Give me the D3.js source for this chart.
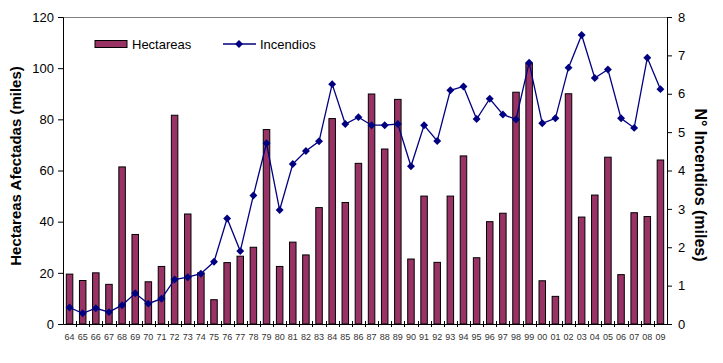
<!DOCTYPE html>
<html>
<head>
<meta charset="utf-8">
<script src="https://cdn.jsdelivr.net/npm/d3@7"></script>
<style>
  body { margin: 0; background: #fff; }
  svg { font-family: "Liberation Sans", Arial, sans-serif; }
</style>
</head>
<body>
<svg id="chart" width="723" height="363"></svg>
<script>
var years = ["64","65","66","67","68","69","70","71","72","73","74","75","76","77","78","79",
  "80","81","82","83","84","85","86","87","88","89","90","91","92","93","94","95","96","97",
  "98","99","00","01","02","03","04","05","06","07","08","09"];
// hectareas afectadas (miles)
var hectareas = [19.5,17,20,15.5,61.4,35,16.5,22.5,81.6,43,20,9.5,24,26.5,30,76,
  22.5,32,27,45.5,80.3,47.5,62.8,89.9,68.4,87.8,25.4,50,24.1,50,65.7,25.9,40,43.3,
  90.6,101.9,16.9,10.8,90,41.8,50.4,65.2,19.3,43.5,42,64.1];
// n de incendios (miles)
var incendios = [0.43,0.28,0.41,0.31,0.49,0.80,0.53,0.66,1.16,1.22,1.31,1.62,2.75,1.90,3.35,4.71,
  2.97,4.17,4.51,4.76,6.25,5.21,5.39,5.18,5.18,5.21,4.11,5.18,4.77,6.09,6.19,5.34,5.87,5.46,
  5.33,6.81,5.23,5.36,6.68,7.53,6.41,6.63,5.36,5.11,6.94,6.12];
var leftTicks = [0,20,40,60,80,100,120];
var rightTicks = [0,1,2,3,4,5,6,7,8];

var svg = d3.select("#chart");
var plotL = 63, plotR = 667, plotT = 17, plotB = 324;

var x = d3.scaleBand().domain(years).range([plotL, plotR]);
var yL = d3.scaleLinear().domain([0,120]).range([plotB, plotT]);
var yR = d3.scaleLinear().domain([0,8]).range([plotB, plotT]);

// top border of the plot
svg.append("line")
  .attr("x1", plotL).attr("x2", plotR).attr("y1", plotT + 0.5).attr("y2", plotT + 0.5)
  .attr("stroke", "#808080").attr("stroke-width", 1);

// bars
var bw = 6.5;
svg.append("g").selectAll("rect")
  .data(hectareas)
  .enter().append("rect")
  .attr("x", function(d, i){ return x(years[i]) + x.bandwidth()/2 - bw/2; })
  .attr("y", function(d){ return yL(d); })
  .attr("width", bw)
  .attr("height", function(d){ return plotB - yL(d); })
  .attr("fill", "#993366")
  .attr("stroke", "#000")
  .attr("stroke-width", 1);

// line
var line = d3.line()
  .x(function(d, i){ return x(years[i]) + x.bandwidth()/2; })
  .y(function(d){ return yR(d); });
svg.append("path")
  .datum(incendios)
  .attr("d", line)
  .attr("fill", "none")
  .attr("stroke", "#000080")
  .attr("stroke-width", 1.3);

var diamond = d3.symbol().type(d3.symbolDiamond2).size(40);
svg.append("g").selectAll("path")
  .data(incendios)
  .enter().append("path")
  .attr("d", diamond)
  .attr("transform", function(d, i){
    return "translate(" + (x(years[i]) + x.bandwidth()/2) + "," + yR(d) + ")";
  })
  .attr("fill", "#000080");

// left axis
var gL = svg.append("g")
  .attr("transform", "translate(" + plotL + ",0)")
  .call(d3.axisLeft(yL).tickValues(leftTicks).tickSize(5).tickPadding(4));
gL.select(".domain").attr("stroke", "#000");
gL.selectAll("text").attr("font-size", 13).attr("fill", "#000");

// right axis
var gR = svg.append("g")
  .attr("transform", "translate(" + plotR + ",0)")
  .call(d3.axisRight(yR).tickValues(rightTicks).tickSize(5).tickPadding(6));
gR.selectAll("text").attr("font-size", 13).attr("fill", "#000");

// bottom axis
var gB = svg.append("g")
  .attr("transform", "translate(0," + plotB + ")")
  .call(d3.axisBottom(x).tickSize(0).tickPadding(10));
gB.select(".domain").attr("stroke", "#000");
gB.selectAll("text").attr("font-size", 9).attr("fill", "#333");
// crossing tick marks at category boundaries
svg.append("g").selectAll("line")
  .data(years.slice(1))
  .enter().append("line")
  .attr("x1", function(d){ return Math.round(x(d)) + 0.5; })
  .attr("x2", function(d){ return Math.round(x(d)) + 0.5; })
  .attr("y1", plotB - 3).attr("y2", plotB + 3)
  .attr("stroke", "#000");

// axis titles
svg.append("text")
  .attr("transform", "translate(21,166) rotate(-90)")
  .attr("text-anchor", "middle")
  .attr("font-size", 15).attr("font-weight", "bold")
  .text("Hectareas Afectadas (miles)");
svg.append("text")
  .attr("transform", "translate(695,185) rotate(90)")
  .attr("text-anchor", "middle")
  .attr("font-size", 16).attr("font-weight", "bold")
  .text("N° Incendios (miles)");

// legend
var lg = svg.append("g");
lg.append("rect").attr("x", 95).attr("y", 40.5).attr("width", 32).attr("height", 7)
  .attr("fill", "#993366").attr("stroke", "#000");
lg.append("text").attr("x", 132).attr("y", 49).attr("font-size", 13).text("Hectareas");
lg.append("line").attr("x1", 223).attr("x2", 256).attr("y1", 44).attr("y2", 44)
  .attr("stroke", "#000080").attr("stroke-width", 1.3);
lg.append("path").attr("d", diamond).attr("transform", "translate(239,44)")
  .attr("fill", "#000080");
lg.append("text").attr("x", 260).attr("y", 49).attr("font-size", 13).text("Incendios");
</script>
</body>
</html>
